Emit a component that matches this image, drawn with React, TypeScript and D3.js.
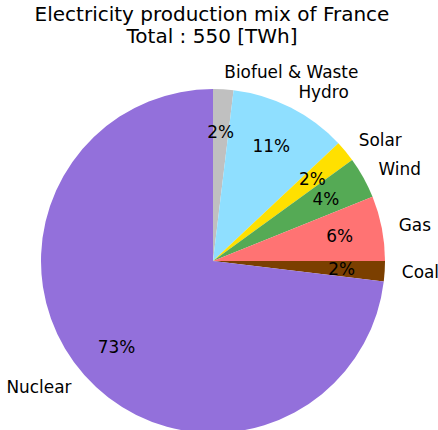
import React, { useRef, useEffect } from "react";
import * as d3 from "d3";

const sources = ["Biofuel & Waste", "Hydro", "Solar", "Wind", "Gas", "Coal", "Nuclear"];
const production = [10.5, 61, 11, 21.5, 33.5, 10.5, 402];
const colors = ["#c0c0c0", "#8fdfff", "#ffe000", "#55aa55", "#ff7373", "#7b3f00", "#9370db"];
const titleLines = ["Electricity production mix of France", "Total : 550 [TWh]"];

const App = () => {
  const svgRef = useRef<SVGSVGElement>(null);

  useEffect(() => {
    const svg = d3.select(svgRef.current);
    svg.selectAll("*").remove();

    const width = 438,
      height = 430,
      cx = 213,
      cy = 261,
      radius = 172,
      font = "DejaVu Sans, sans-serif";

    const total = d3.sum(production);
    const data = sources.map((name, i) => ({ name, value: production[i], color: colors[i] }));

    const pie = d3
      .pie<any>()
      .sort(null)
      .value((d) => d.value);
    const arcs = pie(data);

    const arc = d3.arc<any>().innerRadius(0).outerRadius(radius);
    const labelArc = d3.arc<any>().innerRadius(radius * 1.1).outerRadius(radius * 1.1);
    const pctArc = d3.arc<any>().innerRadius(radius * 0.75).outerRadius(radius * 0.75);

    const g = svg.append("g").attr("transform", `translate(${cx},${cy})`);

    g.selectAll("path.slice")
      .data(arcs)
      .enter()
      .append("path")
      .attr("class", "slice")
      .attr("d", arc)
      .attr("fill", (d) => d.data.color);

    // outer labels
    g.selectAll("text.label")
      .data(arcs)
      .enter()
      .append("text")
      .attr("class", "label")
      .attr("x", (d) => labelArc.centroid(d)[0])
      .attr("y", (d) => labelArc.centroid(d)[1])
      .attr("text-anchor", (d) => (labelArc.centroid(d)[0] >= 0 ? "start" : "end"))
      .attr("dominant-baseline", "central")
      .style("font-family", font)
      .style("font-size", "16.9px")
      .text((d) => d.data.name);

    // percentages
    g.selectAll("text.pct")
      .data(arcs)
      .enter()
      .append("text")
      .attr("class", "pct")
      .attr("x", (d) => pctArc.centroid(d)[0])
      .attr("y", (d) => pctArc.centroid(d)[1])
      .attr("text-anchor", "middle")
      .attr("dominant-baseline", "central")
      .style("font-family", font)
      .style("font-size", "16.9px")
      .text((d) => `${Math.round((d.data.value / total) * 100)}%`);

    // title
    svg
      .selectAll("text.title")
      .data(titleLines)
      .enter()
      .append("text")
      .attr("class", "title")
      .attr("x", 212)
      .attr("y", (d, i) => 20.7 + i * 22)
      .attr("text-anchor", "middle")
      .style("font-family", font)
      .style("font-size", "20px")
      .text((d) => d);

    svg.attr("width", width).attr("height", height);
  }, []);

  return (
    <svg
      ref={svgRef}
      width={438}
      height={430}
      style={{ position: "absolute", left: 0, top: 0, background: "white" }}
    ></svg>
  );
};

export default App;
